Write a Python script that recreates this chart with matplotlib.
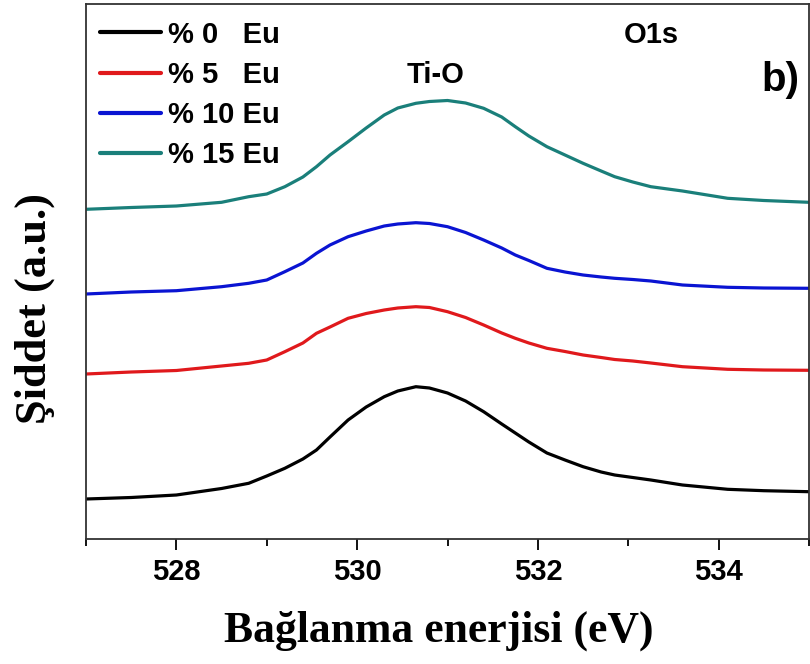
import matplotlib
matplotlib.use("Agg")
import matplotlib.pyplot as plt

energy = [527.0, 527.5, 528.0, 528.5, 528.8, 529.0, 529.2, 529.4, 529.55, 529.7,
          529.9, 530.1, 530.3, 530.45, 530.65, 530.8, 531.0, 531.2, 531.4, 531.6,
          531.75, 531.9, 532.1, 532.3, 532.5, 532.7, 532.85, 533.05, 533.25, 533.6,
          534.1, 534.5, 535.0]

eu0 = [40.0, 41.5, 44.0, 50.5, 55.7, 63.0, 70.7, 80.0, 89.0, 102.0,
       119.0, 132.0, 142.3, 148.0, 152.3, 151.0, 146.0, 138.0, 127.3, 115.0,
       106.0, 97.0, 86.0, 79.0, 72.3, 67.0, 64.0, 61.5, 59.0, 54.0,
       49.7, 48.3, 47.3]
eu5 = [165.0, 167.0, 168.5, 173.0, 175.7, 179.0, 187.3, 196.0, 205.7, 212.0,
       220.7, 225.5, 229.0, 231.0, 232.3, 231.5, 227.3, 221.5, 214.0, 206.0,
       200.7, 196.0, 190.7, 187.5, 184.0, 181.5, 179.5, 178.0, 176.0, 172.3,
       169.7, 169.0, 168.7]
eu10 = [245.0, 247.0, 248.3, 252.3, 255.7, 259.0, 267.3, 276.0, 285.7, 294.0,
        302.3, 308.0, 313.0, 315.0, 316.3, 315.5, 312.3, 306.5, 299.0, 291.0,
        284.0, 278.5, 270.7, 267.0, 264.0, 262.0, 260.7, 259.5, 258.0, 254.0,
        251.7, 251.0, 250.7]
eu15 = [329.7, 331.5, 333.0, 336.7, 342.3, 345.0, 352.3, 362.0, 372.3, 384.0,
        397.3, 411.0, 424.0, 431.0, 435.7, 437.5, 438.5, 436.0, 430.7, 422.0,
        412.3, 403.0, 392.3, 384.0, 375.7, 368.0, 362.3, 357.0, 352.3, 348.0,
        340.7, 338.5, 336.7]

labels = ["% 0   Eu", "% 5   Eu", "% 10 Eu", "% 15 Eu"]
colors = ["#000000", "#e0191c", "#0a14d2", "#1a7f7a"]
series = [eu0, eu5, eu10, eu15]

xticks = [528, 530, 532, 534]
xminor = [527, 529, 531, 533, 535]

fig = plt.figure(figsize=(8.1, 6.64), dpi=100)
ax = fig.add_axes([86 / 810, 125 / 664, 723 / 810, 535 / 664])

for y, c, lab in zip(series, colors, labels):
    ax.plot(energy, y, color=c, lw=2.3, label=lab,
            solid_capstyle="round", solid_joinstyle="round")

ax.set_xlim(527, 535)
ax.set_ylim(0, 535)
ax.set_yticks([])
ax.set_xticks(xticks)
ax.set_xticks(xminor, minor=True)
ax.tick_params(axis="x", which="major", direction="out", length=8, width=1.3, pad=6)
ax.tick_params(axis="x", which="minor", direction="out", length=5, width=1.3)
for lab in ax.get_xticklabels():
    lab.set_fontfamily("Liberation Sans")
    lab.set_fontweight("bold")
    lab.set_fontsize(21)
for sp in ax.spines.values():
    sp.set_linewidth(1.3)
    sp.set_color("#333333")

ax.set_xlabel("Bağlanma enerjisi (eV)", family="Liberation Serif", fontweight="bold",
              fontsize=31.5)
ax.xaxis.set_label_coords(0.488, -0.133)
ax.set_ylabel("Şiddet (a.u.)", family="Liberation Serif", fontweight="bold",
              fontsize=32)
ax.yaxis.set_label_coords(-0.043, 0.43)

leg = ax.legend(loc="upper left", bbox_to_anchor=(0.019, 0.969), frameon=False,
                prop={"family": "Liberation Sans", "weight": "bold", "size": 21},
                handlelength=2.1, handletextpad=0.25, labelspacing=0.42,
                borderpad=0, borderaxespad=0)
for line in leg.get_lines():
    line.set_linewidth(3)

ax.text(530.87, 464, "Ti-O", family="Liberation Sans", fontweight="bold",
        fontsize=21, ha="center", va="center")
ax.text(533.26, 504, "O1s", family="Liberation Sans", fontweight="bold",
        fontsize=21, ha="center", va="center")
ax.text(534.68, 459, "b)", family="Liberation Sans", fontweight="bold",
        fontsize=29, ha="center", va="center")

fig.savefig("out.png", dpi=100)
